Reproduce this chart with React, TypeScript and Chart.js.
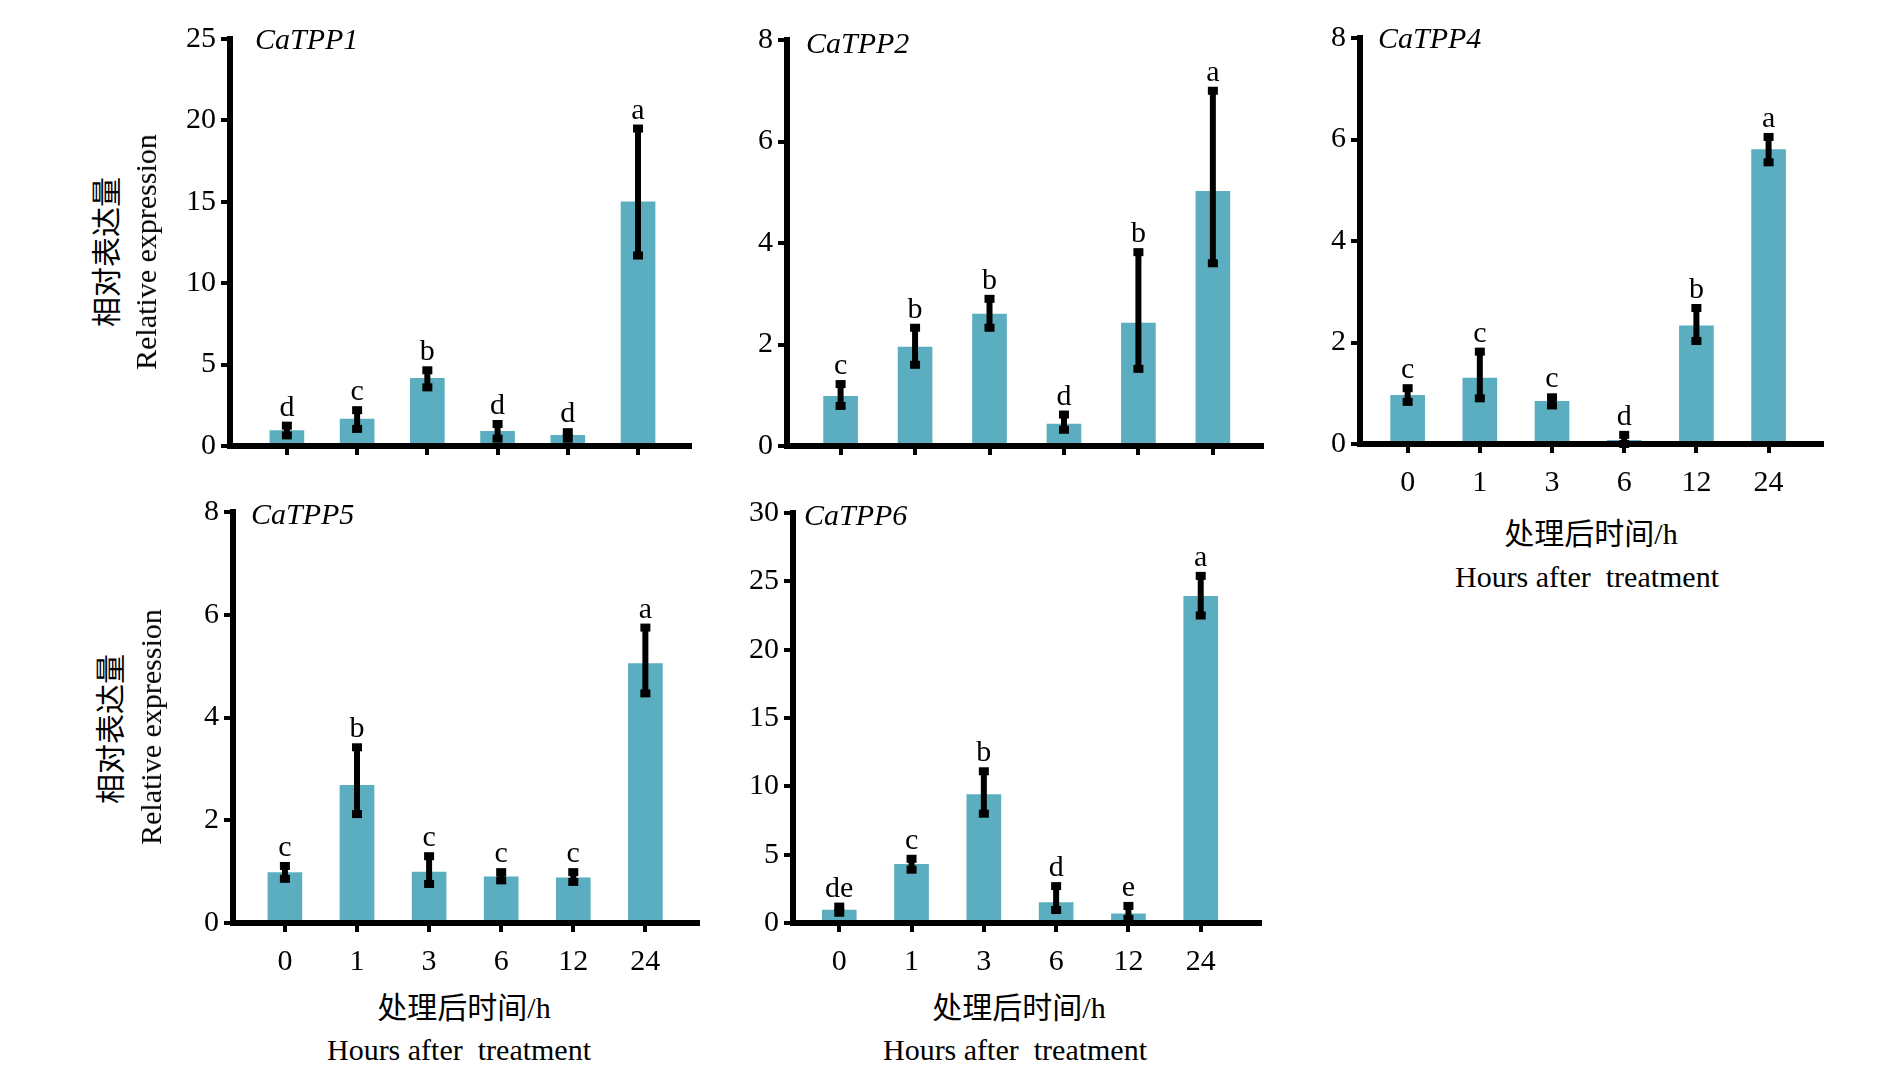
import React, { useEffect, useRef } from "react";
import { Chart, registerables } from "chart.js";

Chart.register(...registerables);

// ---------- data ----------
const HOURS = ["0", "1", "3", "6", "12", "24"];

const TPP1_MEAN = [0.95, 1.65, 4.15, 0.9, 0.65, 15.0];
const TPP1_LOW = [0.65, 1.05, 3.6, 0.45, 0.45, 11.7];
const TPP1_HIGH = [1.25, 2.2, 4.65, 1.35, 0.85, 19.5];
const TPP1_SIG = ["d", "c", "b", "d", "d", "a"];

const TPP2_MEAN = [0.98, 1.95, 2.6, 0.43, 2.42, 5.02];
const TPP2_LOW = [0.79, 1.6, 2.33, 0.32, 1.52, 3.6];
const TPP2_HIGH = [1.22, 2.33, 2.9, 0.62, 3.82, 7.0];
const TPP2_SIG = ["c", "b", "b", "d", "b", "a"];

const TPP4_MEAN = [0.96, 1.3, 0.84, 0.07, 2.33, 5.8];
const TPP4_LOW = [0.83, 0.9, 0.76, 0.0, 2.03, 5.55];
const TPP4_HIGH = [1.1, 1.82, 0.92, 0.18, 2.68, 6.05];
const TPP4_SIG = ["c", "c", "c", "d", "b", "a"];

const TPP5_MEAN = [0.98, 2.68, 0.99, 0.9, 0.88, 5.05];
const TPP5_LOW = [0.86, 2.12, 0.76, 0.83, 0.8, 4.47];
const TPP5_HIGH = [1.11, 3.42, 1.3, 0.99, 0.99, 5.75];
const TPP5_SIG = ["c", "b", "c", "c", "c", "a"];

const TPP6_MEAN = [0.95, 4.3, 9.4, 1.5, 0.67, 23.9];
const TPP6_LOW = [0.75, 3.9, 8.0, 0.95, 0.3, 22.5];
const TPP6_HIGH = [1.2, 4.7, 11.1, 2.7, 1.25, 25.4];
const TPP6_SIG = ["de", "c", "b", "d", "e", "a"];

const Y_TITLE_CN = "相对表达量";
const Y_TITLE_EN = "Relative expression";
const X_TITLE_CN = "处理后时间/h";
const X_TITLE_EN = "Hours after  treatment";

// ---------- styles / layout ----------
const BAR_COLOR = "#5aaebf";
const SERIF = "'Liberation Serif', 'Times New Roman', serif";
const CN_FONT = "'Liberation Serif', 'Noto Sans CJK SC', serif";
const FS = 30;

const Y_W = 80; // y scale width
const X_H = 60; // x scale height
const PAD_T = 25;
const PAD_R = 8;

type Panel = {
  title: string;
  mean: number[];
  low: number[];
  high: number[];
  sig: string[];
  yMax: number;
  yStep: number;
  axisX: number;
  top: number;
  zero: number;
  endX: number;
  xMin: number;
  xMax: number;
  xLabels: boolean;
  titleX: number;
  titleY: number;
};

const PANELS: Panel[] = [
  { title: "CaTPP1", mean: TPP1_MEAN, low: TPP1_LOW, high: TPP1_HIGH, sig: TPP1_SIG, yMax: 25, yStep: 5,
    axisX: 230, top: 39, zero: 446, endX: 690, xMin: -0.81, xMax: 5.74, xLabels: false, titleX: 255, titleY: 39 },
  { title: "CaTPP2", mean: TPP2_MEAN, low: TPP2_LOW, high: TPP2_HIGH, sig: TPP2_SIG, yMax: 8, yStep: 2,
    axisX: 787, top: 40, zero: 446, endX: 1262, xMin: -0.72, xMax: 5.66, xLabels: false, titleX: 806, titleY: 43 },
  { title: "CaTPP4", mean: TPP4_MEAN, low: TPP4_LOW, high: TPP4_HIGH, sig: TPP4_SIG, yMax: 8, yStep: 2,
    axisX: 1360, top: 38, zero: 444, endX: 1822, xMin: -0.66, xMax: 5.74, xLabels: true, titleX: 1378, titleY: 38 },
  { title: "CaTPP5", mean: TPP5_MEAN, low: TPP5_LOW, high: TPP5_HIGH, sig: TPP5_SIG, yMax: 8, yStep: 2,
    axisX: 233, top: 512, zero: 923, endX: 698, xMin: -0.72, xMax: 5.73, xLabels: true, titleX: 251, titleY: 514 },
  { title: "CaTPP6", mean: TPP6_MEAN, low: TPP6_LOW, high: TPP6_HIGH, sig: TPP6_SIG, yMax: 30, yStep: 5,
    axisX: 793, top: 513, zero: 923, endX: 1260, xMin: -0.64, xMax: 5.82, xLabels: true, titleX: 804, titleY: 515 },
];

const errPlugin = {
  id: "errbars",
  afterDatasetsDraw(chart: any) {
    const p: Panel = chart.options.plugins.errbars.panel;
    const ctx = chart.ctx;
    const xs = chart.scales.x;
    const ys = chart.scales.y;
    ctx.save();
    ctx.fillStyle = "#000";
    ctx.strokeStyle = "#000";
    p.mean.forEach((_, i) => {
      const x = xs.getPixelForValue(i);
      const yl = ys.getPixelForValue(p.low[i]);
      const yh = ys.getPixelForValue(p.high[i]);
      ctx.lineWidth = 6;
      ctx.beginPath();
      ctx.moveTo(x, yl);
      ctx.lineTo(x, yh);
      ctx.stroke();
      ctx.fillRect(x - 5, yh - 4, 10, 8);
      ctx.fillRect(x - 5, yl - 4, 10, 8);
      ctx.font = `${FS}px ${SERIF}`;
      ctx.textAlign = "center";
      ctx.textBaseline = "alphabetic";
      ctx.fillText(p.sig[i], x, yh - 10);
    });
    ctx.restore();
  },
};

function PanelChart({ p }: { p: Panel }) {
  const ref = useRef<HTMLCanvasElement | null>(null);
  const left = p.axisX - Y_W;
  const top = p.top - PAD_T;
  const width = Y_W + (p.endX - p.axisX) + PAD_R;
  const height = PAD_T + (p.zero - p.top) + X_H;

  useEffect(() => {
    if (!ref.current) return;
    const chart = new Chart(ref.current, {
      type: "bar",
      data: {
        datasets: [
          {
            data: p.mean.map((v, i) => ({ x: i, y: v })),
            backgroundColor: BAR_COLOR,
            borderWidth: 0,
            barThickness: 34,
          },
        ],
      },
      options: {
        animation: false,
        responsive: false,
        devicePixelRatio: 1,
        layout: { padding: { top: PAD_T, right: PAD_R, left: 0, bottom: 0 } },
        plugins: {
          legend: { display: false },
          tooltip: { enabled: false },
          title: { display: false },
          errbars: { panel: p },
        } as any,
        scales: {
          x: {
            type: "linear",
            offset: false,
            min: p.xMin,
            max: p.xMax,
            afterBuildTicks: (s: any) => {
              s.ticks = HOURS.map((_, i) => ({ value: i }));
            },
            afterFit: (s: any) => {
              s.height = X_H;
            },
            grid: { display: true, offset: false, drawOnChartArea: false, drawTicks: true, tickLength: 9, lineWidth: 4, color: "#000" },
            border: { display: true, width: 6, color: "#000", z: 1 } as any,
            ticks: {
              display: p.xLabels,
              padding: 12,
              color: "#000",
              font: { family: SERIF, size: FS },
              maxRotation: 0,
              autoSkip: false,
              callback: (v: any) => HOURS[Math.round(Number(v))] ?? "",
            },
          },
          y: {
            type: "linear",
            min: 0,
            max: p.yMax,
            afterFit: (s: any) => {
              s.width = Y_W;
            },
            grid: { display: true, drawOnChartArea: false, drawTicks: true, tickLength: 9, lineWidth: 4, color: "#000" },
            border: { display: true, width: 6, color: "#000", z: 1 } as any,
            ticks: {
              stepSize: p.yStep,
              padding: 5,
              color: "#000",
              font: { family: SERIF, size: FS },
            },
          },
        },
      },
      plugins: [errPlugin],
    } as any);
    return () => chart.destroy();
  }, []);

  return (
    <>
      <canvas
        ref={ref}
        width={width}
        height={height}
        style={{ position: "absolute", left, top, width, height }}
      />
      <div
        style={{
          position: "absolute",
          left: p.titleX,
          top: p.titleY - 17,
          fontFamily: SERIF,
          fontStyle: "italic",
          fontSize: FS,
          lineHeight: "34px",
          whiteSpace: "nowrap",
          color: "#000",
        }}
      >
        {p.title}
      </div>
    </>
  );
}

function Label({ x, y, text, rotate, font }: { x: number; y: number; text: string; rotate?: boolean; font: string }) {
  return (
    <div
      style={{
        position: "absolute",
        left: x,
        top: y,
        transform: `translate(-50%, -50%)${rotate ? " rotate(-90deg)" : ""}`,
        fontFamily: font,
        fontSize: FS,
        lineHeight: "36px",
        whiteSpace: "pre",
        color: "#000",
      }}
    >
      {text}
    </div>
  );
}

export default function App() {
  return (
    <div style={{ position: "absolute", left: 0, top: 0, width: 1890, height: 1081, background: "#fff", overflow: "hidden" }}>
      {PANELS.map((p) => (
        <PanelChart key={p.title} p={p} />
      ))}
      {/* y titles */}
      <Label x={107} y={252} text={Y_TITLE_CN} rotate font={CN_FONT} />
      <Label x={146} y={252} text={Y_TITLE_EN} rotate font={SERIF} />
      <Label x={111} y={729} text={Y_TITLE_CN} rotate font={CN_FONT} />
      <Label x={151} y={727} text={Y_TITLE_EN} rotate font={SERIF} />
      {/* x titles */}
      <Label x={1591} y={534} text={X_TITLE_CN} font={CN_FONT} />
      <Label x={1587} y={577} text={X_TITLE_EN} font={SERIF} />
      <Label x={464} y={1008} text={X_TITLE_CN} font={CN_FONT} />
      <Label x={459} y={1050} text={X_TITLE_EN} font={SERIF} />
      <Label x={1019} y={1008} text={X_TITLE_CN} font={CN_FONT} />
      <Label x={1015} y={1050} text={X_TITLE_EN} font={SERIF} />
    </div>
  );
}
